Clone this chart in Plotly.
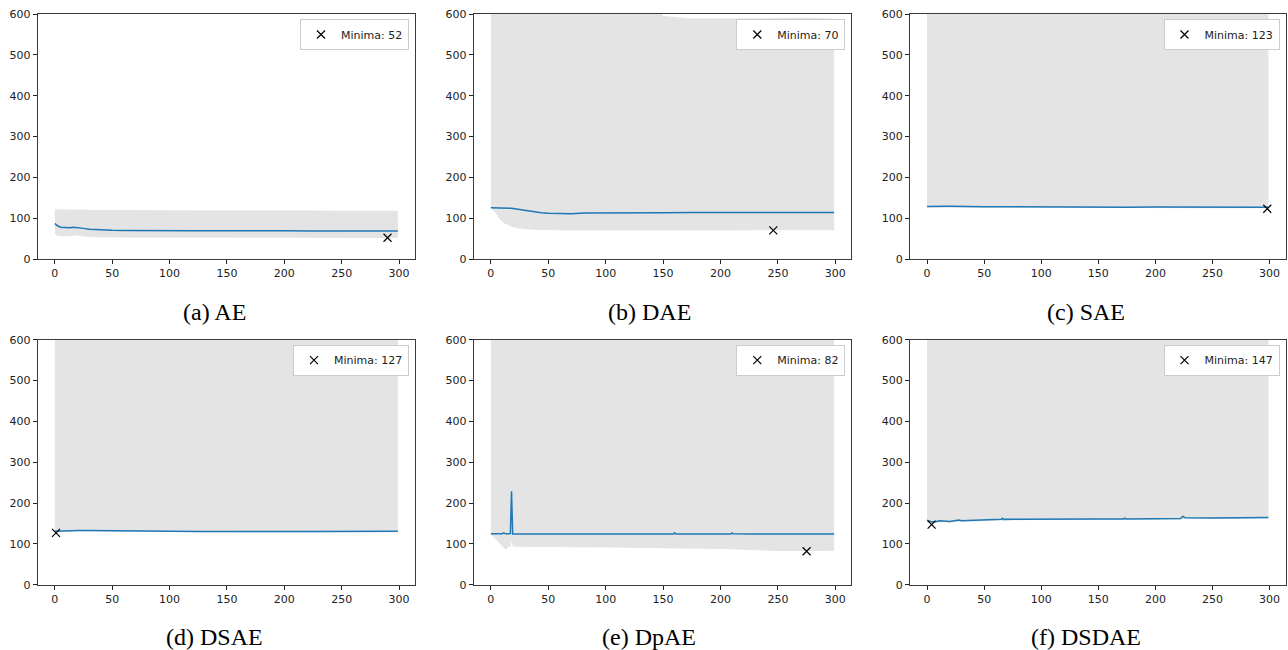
import plotly.graph_objects as go

W, H = 1288, 650

# ---------------- data ----------------
captions = ["(a) AE", "(b) DAE", "(c) SAE", "(d) DSAE", "(e) DpAE", "(f) DSDAE"]
minima_labels = [52, 70, 123, 127, 82, 147]
minima_x = [290, 246, 298, 1, 275, 4]
minima_y = [52, 70, 123, 127, 82, 147]

x_ticks = [0, 50, 100, 150, 200, 250, 300]
y_ticks = [0, 100, 200, 300, 400, 500, 600]

# (a) AE
a_x = [0, 2, 5, 8, 10, 13, 16, 18, 20, 25, 30, 35, 40, 50, 60, 75, 100, 125, 150, 170, 175, 200, 225, 250, 275, 299]
a_mean = [87, 82, 78, 77, 76.5, 76.5, 78, 77, 76, 75, 73, 72, 71.5, 70.5, 70, 69.5, 69.3, 69, 69, 69.5, 69, 69, 68.8, 68.6, 68.5, 68.5]
a_lower = [62, 57, 55.5, 55, 55, 55.5, 57, 58, 57, 55, 54, 53.5, 53, 53, 52.5, 52.5, 52, 52, 52, 52, 52, 52, 51.5, 51.5, 51.5, 51.5]
a_upper = [122, 122, 122, 121.5, 121.5, 121, 121, 121, 121, 120.5, 120.5, 120, 120, 120, 120, 119.5, 119.5, 119, 119, 119, 119, 118.5, 118.5, 118, 118, 118]

# (b) DAE
b_x = [0, 4, 8, 12, 15, 18, 25, 30, 37, 44, 50, 60, 70, 82, 100, 120, 140, 145, 150, 175, 200, 220, 230, 250, 275, 290, 299]
b_mean = [125.5, 125.5, 125.5, 125.5, 125.5, 124, 121, 119, 114.5, 113, 112, 111.5, 111, 112.5, 112.5, 112, 113, 113, 113, 114, 114, 115, 114, 114, 114, 115, 114]
b_lower = [125, 113, 96, 87, 83, 79, 75, 73, 71.5, 71, 70.5, 70, 70, 70, 69.5, 69.5, 69.5, 69.5, 70, 70, 70, 70, 70, 70, 70.5, 70.5, 70.5]
b_upper = [700, 700, 700, 700, 700, 700, 700, 700, 700, 700, 700, 700, 700, 700, 700, 700, 700, 620, 595, 589, 589, 590, 590, 590, 591, 590, 589]

# (c) SAE
c_x = [0, 10, 20, 50, 75, 100, 125, 150, 175, 200, 225, 250, 275, 299]
c_mean = [128.5, 129, 129, 128, 127.5, 127, 127, 127, 127, 127.5, 127.5, 127, 127, 127]
c_lower = [126, 126, 126, 125, 125, 124.5, 124.5, 124.5, 124.5, 124.5, 124.5, 124.5, 124, 124]
c_upper = [700, 700, 700, 700, 700, 700, 700, 700, 700, 700, 700, 700, 700, 700]

# (d) DSAE
d_x = [0, 10, 20, 30, 50, 75, 100, 125, 150, 175, 200, 225, 250, 275, 299]
d_mean = [131, 132.5, 133, 133, 132, 131.5, 131, 130.5, 130, 130, 130, 130.5, 131, 131, 131]
d_lower = [128, 129.5, 130, 130, 129.5, 129, 128.5, 128, 128, 128, 128, 128, 128.5, 128.5, 128.5]
d_upper = [700, 700, 700, 700, 700, 700, 700, 700, 700, 700, 700, 700, 700, 700, 700]

# (e) DpAE
e_x = [0, 5, 8, 10, 11, 12, 13, 15, 17, 18, 19, 20, 30, 50, 75, 100, 125, 150, 159, 160, 161, 175, 200, 209, 210, 211, 225, 240, 250, 275, 299]
e_mean = [124.5, 124, 124.5, 124.5, 127, 126, 124.5, 124.5, 125, 229, 124, 124, 124, 124, 124, 124, 123.5, 124, 124, 127, 124, 124, 124, 124, 126.5, 124.5, 124, 124, 124, 124, 124]
e_lower = [124, 109, 100, 93, 90, 88, 87, 92, 93, 106, 93, 93, 92.5, 92, 91.5, 91, 90.5, 90, 90, 90, 90, 89.5, 87.5, 87, 87, 87, 85, 83.5, 82.5, 82.5, 83]
e_upper = [700] * 31

# (f) DSDAE
f_x = [0, 2, 4, 8, 11, 20, 27, 28, 30, 40, 50, 65, 66, 67, 75, 100, 125, 148, 149, 150, 172, 173, 174, 200, 204, 205, 222, 224, 226, 250, 285, 287, 289, 299]
f_mean = [158, 156, 153.5, 155, 156.5, 155, 157, 158.5, 156.5, 157, 158, 160, 162.5, 160, 160.5, 161, 161, 161, 162.5, 161, 161, 163, 161, 161, 162, 161.5, 162, 167, 164, 163.5, 164, 165, 164, 164.5]
f_lower = [154, 152, 151, 152, 153, 152.5, 154, 155, 154, 154.5, 155.5, 157, 158, 157.5, 158, 158.5, 158.5, 158.5, 159, 158.5, 158.5, 159.5, 158.5, 158.5, 159, 159, 159.5, 162, 161.5, 161, 161.5, 162, 161.5, 162]
f_upper = [700] * 34

panels = [
    (a_x, a_mean, a_lower, a_upper),
    (b_x, b_mean, b_lower, b_upper),
    (c_x, c_mean, c_lower, c_upper),
    (d_x, d_mean, d_lower, d_upper),
    (e_x, e_mean, e_lower, e_upper),
    (f_x, f_mean, f_lower, f_upper),
]

# ---------------- layout geometry (pixels) ----------------
col_px = [(37.7, 415.0), (473.7, 851.3), (910.0, 1285.5)]
row_px = [(14.0, 259.0), (339.7, 584.7)]
caption_cx = [214, 649, 1086]
caption_cy = [312, 637]

BAND = "#e4e4e4"
LINE = "#1f77b4"
FRAME = "#3a3a3a"
TICKFONT = dict(family="DejaVu Sans", size=11, color="#222222")

fig = go.Figure()
layout = dict(
    template="none",
    width=W, height=H, autosize=False,
    margin=dict(l=0, r=0, t=0, b=0, pad=0, autoexpand=False),
    paper_bgcolor="white", plot_bgcolor="white",
    annotations=[],
)

for i, (xs, mean, lo, up) in enumerate(panels):
    r, c = divmod(i, 3)
    sfx = "" if i == 0 else str(i + 1)
    xa, ya = "x" + sfx, "y" + sfx
    leg = "legend" + sfx
    x0, x1 = col_px[c]
    yt, yb = row_px[r]

    fig.add_trace(go.Scatter(x=xs, y=lo, mode="lines", line=dict(width=0, color=BAND),
                             hoverinfo="skip", showlegend=False, xaxis=xa, yaxis=ya))
    fig.add_trace(go.Scatter(x=xs, y=up, mode="lines", line=dict(width=0, color=BAND),
                             fill="tonexty", fillcolor=BAND,
                             hoverinfo="skip", showlegend=False, xaxis=xa, yaxis=ya))
    fig.add_trace(go.Scatter(x=xs, y=mean, mode="lines", line=dict(width=1.5, color=LINE),
                             showlegend=False, xaxis=xa, yaxis=ya))
    fig.add_trace(go.Scatter(x=[minima_x[i]], y=[minima_y[i]], mode="markers",
                             marker=dict(symbol="x-thin", size=8, line=dict(width=1.2, color="black"), color="black"),
                             name=f"Minima: {minima_labels[i]}", showlegend=True, legend=leg,
                             xaxis=xa, yaxis=ya))

    layout["xaxis" + sfx] = dict(
        domain=[x0 / W, x1 / W], anchor=ya, range=[-14.95, 313.95], automargin=False,
        tickmode="array", tickvals=x_ticks, ticktext=[str(v) for v in x_ticks],
        ticks="outside", ticklen=4, tickwidth=1, tickcolor="#222",
        showline=True, linecolor=FRAME, linewidth=1, mirror=True,
        showgrid=False, zeroline=False, tickfont=TICKFONT,
    )
    layout["yaxis" + sfx] = dict(
        domain=[1 - yb / H, 1 - yt / H], anchor=xa, range=[0, 600], automargin=False,
        tickmode="array", tickvals=y_ticks, ticktext=[str(v) for v in y_ticks],
        ticks="outside", ticklen=4, tickwidth=1, tickcolor="#222",
        showline=True, linecolor=FRAME, linewidth=1, mirror=True,
        showgrid=False, zeroline=False, tickfont=TICKFONT,
    )
    layout[leg] = dict(
        x=(x1 - 6) / W, y=1 - (yt + 5) / H, xanchor="right", yanchor="top",
        bgcolor="white", bordercolor="#cccccc", borderwidth=1,
        font=dict(family="DejaVu Sans", size=11, color="#222"),
        itemwidth=30, tracegroupgap=0,
    )
    layout["annotations"].append(dict(
        text=captions[i], xref="paper", yref="paper",
        x=caption_cx[c] / W, y=1 - caption_cy[r] / H,
        xanchor="center", yanchor="middle", showarrow=False,
        font=dict(family="Liberation Serif", size=24, color="black"),
    ))

fig.update_layout(**layout)
fig.write_html(
    "out.html",
    config={"displayModeBar": False, "responsive": False},
    post_script="document.body.style.margin='0px';document.body.style.overflow='hidden';",
)
